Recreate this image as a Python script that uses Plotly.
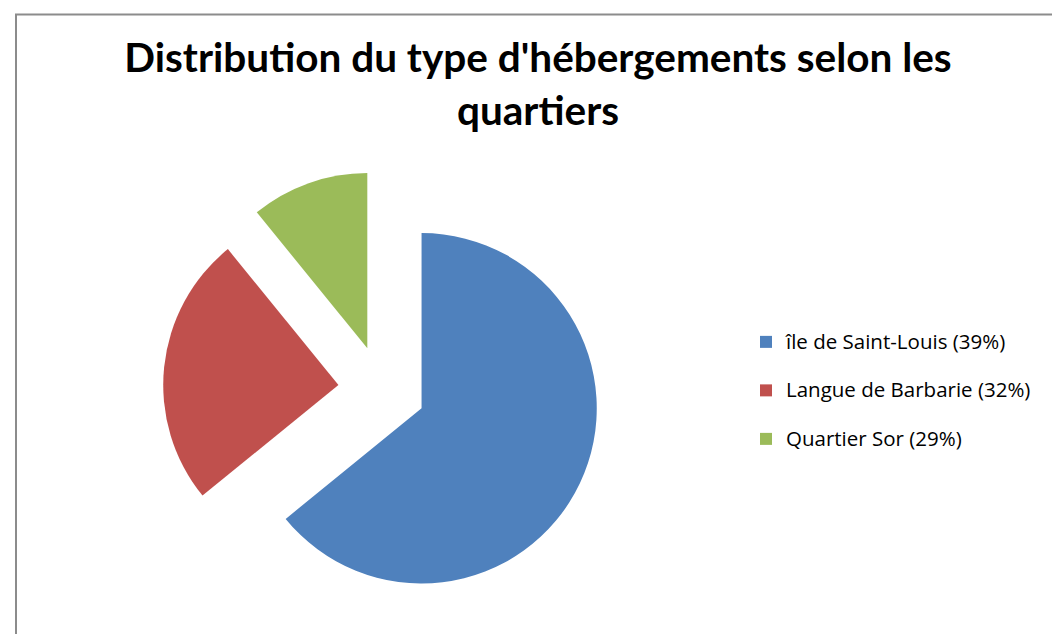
import plotly.graph_objects as go

W, H = 1060, 634

# data
quartiers = ["île de Saint-Louis (39%)", "Langue de Barbarie (32%)", "Quartier Sor (29%)"]
effectifs = [59, 23, 10]
couleurs = ["#4F81BD", "#C0504D", "#9BBB59"]

# pie centre / size in pixels -> domain
cx, cy, half = 374, 381.5, 219
dom_x = [(cx - half) / W, (cx + half) / W]
dom_y = [(H - cy - half) / H, (H - cy + half) / H]

fig = go.Figure(go.Pie(
    labels=["<span style='font-size:20.5px'>" + q + "</span><br>\u00a0" for q in quartiers],
    values=effectifs,
    marker=dict(colors=couleurs, line=dict(width=0)),
    pull=[0.25, 0.25, 0.25],
    sort=False,
    direction="clockwise",
    rotation=0,
    textinfo="none",
    domain=dict(x=dom_x, y=dom_y),
))

fig.update_layout(
    width=W, height=H,
    margin=dict(l=0, r=0, t=0, b=0),
    paper_bgcolor="white",
    font=dict(family="Lato, Calibri, sans-serif", color="black"),
    title=dict(
        text="<b>Distribution du type d'hébergements selon les<br>quartiers</b>",
        x=0.5, xanchor="center",
        y=1 - 64 / H, yanchor="middle",
        font=dict(size=40.5, family="Lato, Calibri, sans-serif", color="black"),
    ),
    legend=dict(
        x=738 / W, xanchor="left",
        y=1 - 316 / H, yanchor="top",
        font=dict(size=17.5, family="Open Sans, sans-serif"),
        valign="top",
        bgcolor="rgba(0,0,0,0)",
    ),
    shapes=[dict(type="rect", xref="paper", yref="paper",
                 x0=8 / W, x1=1.02, y0=-0.02, y1=1 - 6.5 / H,
                 line=dict(color="#8c8c8c", width=2))],
)

fig.write_html("out.html")
